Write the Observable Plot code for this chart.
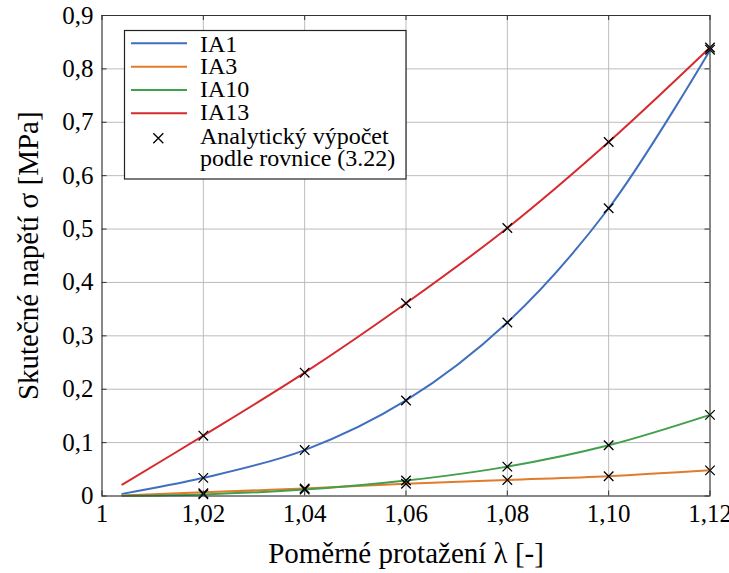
<!DOCTYPE html>
<html>
<head>
<meta charset="utf-8">
<script src="https://cdn.jsdelivr.net/npm/d3@7"></script>
<script src="https://cdn.jsdelivr.net/npm/@observablehq/plot@0.6"></script>
<style>
  body { margin: 0; background: white; }
  #wrap { position: relative; width: 729px; height: 573px; }
  #legend { position: absolute; left: 0; top: 0; pointer-events: none; }
  svg text { font-family: "Liberation Serif", "Tinos", "Times New Roman", "DejaVu Serif", "Noto Serif", "Times", serif !important; }
</style>
</head>
<body>
<div id="wrap"></div>
<script>
// ---- data ----
const lambdaValues = [1.004, 1.02, 1.04, 1.06, 1.08, 1.10, 1.12];
const seriesNames = ["IA1", "IA3", "IA10", "IA13"];
const seriesColors = ["#3f6fbf", "#e27b2b", "#41a04b", "#d62a2f"];
const IA1  = [0.004, 0.034, 0.086, 0.179, 0.325, 0.539, 0.835];
const IA3  = [0.001, 0.007, 0.014, 0.023, 0.030, 0.037, 0.048];
const IA10 = [0.0005, 0.003, 0.012, 0.029, 0.055, 0.095, 0.152];
const IA13 = [0.0215, 0.113, 0.231, 0.361, 0.502, 0.663, 0.840];
const seriesValues = [IA1, IA3, IA10, IA13];

// analytical solution points (eq. 3.22)
const analyticLambda = [1.02, 1.04, 1.06, 1.08, 1.10, 1.12];
const analyticIA1  = [0.034, 0.086, 0.179, 0.325, 0.539, 0.836];
const analyticIA3  = [0.005, 0.014, 0.023, 0.030, 0.037, 0.048];
const analyticIA10 = [0.003, 0.012, 0.029, 0.055, 0.095, 0.152];
const analyticIA13 = [0.113, 0.231, 0.361, 0.502, 0.663, 0.840];
const analyticValues = [analyticIA1, analyticIA3, analyticIA10, analyticIA13];

const xTicks = [1, 1.02, 1.04, 1.06, 1.08, 1.10, 1.12];
const xTickLabels = ["1", "1,02", "1,04", "1,06", "1,08", "1,10", "1,12"];
const yTicks = [0, 0.1, 0.2, 0.3, 0.4, 0.5, 0.6, 0.7, 0.8, 0.9];
const yTickLabels = ["0", "0,1", "0,2", "0,3", "0,4", "0,5", "0,6", "0,7", "0,8", "0,9"];
const xLabel = "Poměrné protažení λ [-]";
const yLabel = "Skutečné napětí σ [MPa]";
const legendAnalytic = ["Analytický výpočet", "podle rovnice (3.22)"];

// ---- tables ----
const curveRows = [];
seriesNames.forEach((s, k) => lambdaValues.forEach((x, i) => curveRows.push({series: s, x, y: seriesValues[k][i]})));
const crossRows = [];
seriesNames.forEach((s, k) => analyticLambda.forEach((x, i) => crossRows.push({series: s, x, y: analyticValues[k][i]})));
const xFmt = new Map(xTicks.map((t, i) => [t, xTickLabels[i]]));
const yFmt = new Map(yTicks.map((t, i) => [t, yTickLabels[i]]));

const W = 729, H = 573, ML = 101.5, MR = 19.5, MT = 15, MB = 77.5;
const FW = W - ML - MR, FH = H - MT - MB;
const font = "Liberation Serif, DejaVu Serif, serif";
const axisColor = "#333";

const chart = Plot.plot({
  width: W, height: H,
  marginLeft: ML, marginRight: MR, marginTop: MT, marginBottom: MB,
  style: {fontFamily: font, fontSize: "24px", color: "black", background: "white"},
  x: {domain: [1, 1.12]},
  y: {domain: [0, 0.9]},
  color: {domain: seriesNames, range: seriesColors},
  marks: [
    Plot.gridX(xTicks, {stroke: "#bcbcbc", strokeOpacity: 1, strokeWidth: 1}),
    Plot.gridY(yTicks, {stroke: "#bcbcbc", strokeOpacity: 1, strokeWidth: 1}),
    Plot.line(curveRows, {x: "x", y: "y", z: "series", stroke: "series", strokeWidth: 2, curve: "catmull-rom"}),
    Plot.dot(crossRows, {x: "x", y: "y", symbol: "times", r: 4.4, stroke: "black", strokeWidth: 1.3}),
    Plot.tickX(xTicks, {x: d => d, insetTop: FH - 5, stroke: axisColor}),
    Plot.tickX(xTicks, {x: d => d, insetBottom: FH - 5, stroke: axisColor}),
    Plot.tickY(yTicks, {y: d => d, insetRight: FW - 5, stroke: axisColor}),
    Plot.tickY(yTicks, {y: d => d, insetLeft: FW - 5, stroke: axisColor}),
    Plot.frame({stroke: axisColor, strokeWidth: 1}),
    Plot.axisX(xTicks, {tickSize: 0, tickPadding: 8, tickFormat: d => xFmt.get(d), label: null, fontSize: 25, fill: "black"}),
    Plot.axisY(yTicks, {tickSize: 0, tickPadding: 8.5, tickFormat: d => yFmt.get(d), label: null, fontSize: 25, fill: "black"}),
    Plot.text([xLabel], {text: d => d, frameAnchor: "bottom", textAnchor: "middle", lineAnchor: "middle", dy: 57.5, fontSize: 29, fill: "black"}),
    Plot.text([yLabel], {text: d => d, frameAnchor: "left", textAnchor: "middle", lineAnchor: "middle", dx: -73, rotate: -90, fontSize: 29, fill: "black"})
  ]
});

const wrap = document.getElementById("wrap");
wrap.appendChild(chart);

// ---- legend overlay ----
const ns = "http://www.w3.org/2000/svg";
const lg = document.createElementNS(ns, "svg");
lg.setAttribute("id", "legend");
lg.setAttribute("width", W);
lg.setAttribute("height", H);
function el(tag, attrs, txt) {
  const e = document.createElementNS(ns, tag);
  for (const k in attrs) e.setAttribute(k, attrs[k]);
  if (txt != null) e.textContent = txt;
  lg.appendChild(e);
  return e;
}
el("rect", {x: 124.5, y: 30.5, width: 281.5, height: 148.5, fill: "white", stroke: "#222", "stroke-width": 1.2});
const lineY = [43.3, 66.7, 90, 113.3];
const textY = [51.7, 73.8, 96.9, 119.8];
seriesNames.forEach((s, i) => {
  el("line", {x1: 131, x2: 187, y1: lineY[i], y2: lineY[i], stroke: seriesColors[i], "stroke-width": 2});
  el("text", {x: 200, y: textY[i], "font-size": 24, fill: "black"}, s);
});
el("path", {d: "M153.3,133.3L163.3,143.3M153.3,143.3L163.3,133.3", stroke: "black", "stroke-width": 1.3, fill: "none"});
el("text", {x: 200, y: 144, "font-size": 24, fill: "black"}, legendAnalytic[0]);
el("text", {x: 200, y: 166, "font-size": 24, fill: "black"}, legendAnalytic[1]);
wrap.appendChild(lg);
</script>
</body>
</html>
